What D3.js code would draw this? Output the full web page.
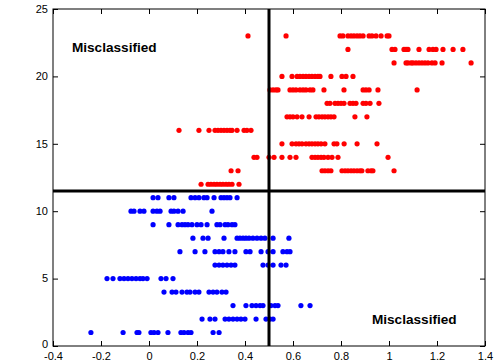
<!DOCTYPE html>
<html>
<head>
<meta charset="utf-8">
<script src="https://cdn.jsdelivr.net/npm/d3@7"></script>
<style>
  html, body { margin: 0; padding: 0; background: #fff; }
  svg { display: block; }
  .tick text { font-family: "Liberation Sans", Arial, sans-serif; font-size: 11px; fill: #000; }
</style>
</head>
<body>
<svg id="chart" width="500" height="364"></svg>
<script>
// Feature score (x) per class label (y); one array of x positions per label.
const classLabels = [1, 2, 3, 4, 5, 6, 7, 8, 9, 10, 11, 12, 13, 14, 15, 16, 17, 18, 19, 20, 21, 22, 23];

const scoresByClass = {
  1:  [-0.242, -0.108, -0.05, -0.042, 0.008, 0.021, 0.0375, 0.079, 0.133, 0.146, 0.1625, 0.175, 0.267, 0.292],
  2:  [0.221, 0.254, 0.275, 0.317, 0.333, 0.35, 0.367, 0.383, 0.4, 0.446, 0.4875, 0.504, 0.517],
  3:  [0.35, 0.404, 0.429, 0.446, 0.4625, 0.475, 0.508, 0.525, 0.5375, 0.633, 0.671],
  4:  [0.0625, 0.096, 0.1125, 0.1375, 0.158, 0.171, 0.192, 0.208, 0.25, 0.267, 0.283, 0.304, 0.321],
  5:  [-0.175, -0.15, -0.121, -0.104, -0.0875, -0.071, -0.054, -0.0375, -0.025, -0.008, 0.05, 0.071, 0.1],
  6:  [0.275, 0.292, 0.308, 0.325, 0.342, 0.358, 0.475, 0.496, 0.517, 0.55, 0.571],
  7:  [0.129, 0.192, 0.233, 0.275, 0.292, 0.308, 0.333, 0.358, 0.404, 0.421, 0.467, 0.496, 0.517, 0.558, 0.575, 0.5875],
  8:  [0.183, 0.225, 0.246, 0.3125, 0.367, 0.379, 0.392, 0.404, 0.417, 0.433, 0.45, 0.467, 0.483, 0.517, 0.583],
  9:  [0.017, 0.083, 0.121, 0.1375, 0.15, 0.1625, 0.179, 0.2, 0.217, 0.242, 0.283, 0.296, 0.317, 0.329, 0.346, 0.358],
  10: [-0.075, -0.0625, -0.0375, -0.021, 0.017, 0.033, 0.046, 0.092, 0.104, 0.121, 0.142, 0.2625],
  11: [0.017, 0.0375, 0.083, 0.104, 0.175, 0.192, 0.208, 0.229, 0.242, 0.271, 0.3, 0.3125, 0.325, 0.3375, 0.367],
  12: [0.217, 0.246, 0.258, 0.271, 0.283, 0.296, 0.308, 0.321, 0.333, 0.346, 0.375],
  13: [0.342, 0.371, 0.721, 0.733, 0.746, 0.758, 0.804, 0.817, 0.829, 0.842, 0.854, 0.867, 0.879, 0.887, 0.912, 0.925, 0.933, 1.021],
  14: [0.4375, 0.45, 0.5, 0.521, 0.554, 0.5875, 0.6125, 0.679, 0.692, 0.704, 0.717, 0.729, 0.746, 0.7625, 0.7875, 0.996],
  15: [0.554, 0.596, 0.6125, 0.625, 0.6375, 0.654, 0.667, 0.679, 0.692, 0.704, 0.717, 0.733, 0.771, 0.783, 0.813, 0.867, 0.95],
  16: [0.125, 0.208, 0.25, 0.275, 0.2875, 0.3, 0.3125, 0.325, 0.3375, 0.346, 0.367, 0.396, 0.408, 0.425],
  17: [0.575, 0.5875, 0.6, 0.617, 0.6375, 0.667, 0.696, 0.708, 0.721, 0.733, 0.746, 0.758, 0.771, 0.858, 0.908],
  18: [0.742, 0.754, 0.775, 0.7875, 0.8, 0.8125, 0.8375, 0.85, 0.8625, 0.892, 0.904, 0.921, 0.958],
  19: [0.504, 0.517, 0.529, 0.5375, 0.5875, 0.6, 0.6125, 0.629, 0.642, 0.654, 0.671, 0.683, 0.729, 0.8125, 0.892, 0.904, 0.917, 0.954, 1.117],
  20: [0.554, 0.596, 0.617, 0.629, 0.642, 0.654, 0.667, 0.679, 0.692, 0.704, 0.7125, 0.758, 0.804, 0.821, 0.85],
  21: [1.021, 1.071, 1.079, 1.092, 1.1, 1.1125, 1.125, 1.1375, 1.15, 1.1625, 1.179, 1.192, 1.221, 1.342],
  22: [0.829, 1.0125, 1.025, 1.0625, 1.071, 1.079, 1.125, 1.167, 1.183, 1.196, 1.225, 1.267, 1.308],
  23: [0.4125, 0.571, 0.796, 0.808, 0.829, 0.842, 0.854, 0.867, 0.879, 0.892, 0.917, 0.929, 0.946, 0.967, 0.992, 1.0]
};

// Decision thresholds
const xThreshold = [0.5];
const yThreshold = [11.5];

const xTicks = [-0.4, -0.2, 0, 0.2, 0.4, 0.6, 0.8, 1, 1.2, 1.4];
const yTicks = [0, 5, 10, 15, 20, 25];
const xDomain = [-0.4, 1.4];
const yDomain = [0, 25];

const annotations = [
  { text: "Misclassified", x: -0.321, y: 21.8 },
  { text: "Misclassified", x: 0.929, y: 1.65 }
];

const margin = { top: 9, right: 15, bottom: 18, left: 53 };
const width = 500, height = 364;
const innerW = width - margin.left - margin.right;
const innerH = height - margin.top - margin.bottom;

const svg = d3.select("#chart");
const g = svg.append("g").attr("transform", `translate(${margin.left},${margin.top})`);

const x = d3.scaleLinear().domain(xDomain).range([0, innerW]);
const y = d3.scaleLinear().domain(yDomain).range([innerH, 0]);

const points = classLabels.flatMap(c => scoresByClass[c].map(s => ({ x: s, y: c })));

// Points: class labels above the threshold in red, below in blue
g.append("g")
  .selectAll("circle")
  .data(points)
  .join("circle")
  .attr("cx", d => x(d.x))
  .attr("cy", d => y(d.y))
  .attr("r", 2.6)
  .attr("fill", d => d.y > yThreshold[0] ? "#ff0000" : "#0000ff");

// Threshold lines
g.append("line")
  .attr("x1", x(xThreshold[0])).attr("x2", x(xThreshold[0]))
  .attr("y1", 0).attr("y2", innerH)
  .attr("stroke", "#000").attr("stroke-width", 3);
g.append("line")
  .attr("x1", 0).attr("x2", innerW)
  .attr("y1", y(yThreshold[0])).attr("y2", y(yThreshold[0]))
  .attr("stroke", "#000").attr("stroke-width", 3);

// Axes with inward ticks on all four sides
const tickLen = 5;
const axB = g.append("g").attr("transform", `translate(0,${innerH})`)
  .call(d3.axisBottom(x).tickValues(xTicks).tickFormat(d => String(d)).tickSizeInner(-tickLen).tickSizeOuter(0));
const axT = g.append("g")
  .call(d3.axisTop(x).tickValues(xTicks).tickFormat("").tickSizeInner(-tickLen).tickSizeOuter(0));
const axL = g.append("g")
  .call(d3.axisLeft(y).tickValues(yTicks).tickFormat(d3.format("d")).tickSizeInner(-tickLen).tickSizeOuter(0));
const axR = g.append("g").attr("transform", `translate(${innerW},0)`)
  .call(d3.axisRight(y).tickValues(yTicks).tickFormat("").tickSizeInner(-tickLen).tickSizeOuter(0));

[axB, axT, axL, axR].forEach(a => {
  a.select(".domain").remove();
  a.selectAll(".tick line").attr("stroke", "#000");
});
axB.selectAll(".tick text").attr("dy", "0.71em").attr("y", 6);
// y labels centred on their ticks; the lowest sits a little higher, clear of the x labels
axL.selectAll(".tick text").attr("x", -5).attr("dy", d => d === yDomain[0] ? "0.1em" : "0.3em");

// Plot frame
g.append("rect")
  .attr("x", 0).attr("y", 0).attr("width", innerW).attr("height", innerH)
  .attr("fill", "none").attr("stroke", "#000").attr("stroke-width", 1);

// Annotations
g.selectAll("text.note")
  .data(annotations)
  .join("text")
  .attr("class", "note")
  .attr("x", d => x(d.x))
  .attr("y", d => y(d.y))
  .attr("font-family", "'Liberation Sans', Arial, sans-serif")
  .attr("font-weight", "bold")
  .attr("font-size", 13.6)
  .attr("fill", "#000")
  .text(d => d.text);
</script>
</body>
</html>
